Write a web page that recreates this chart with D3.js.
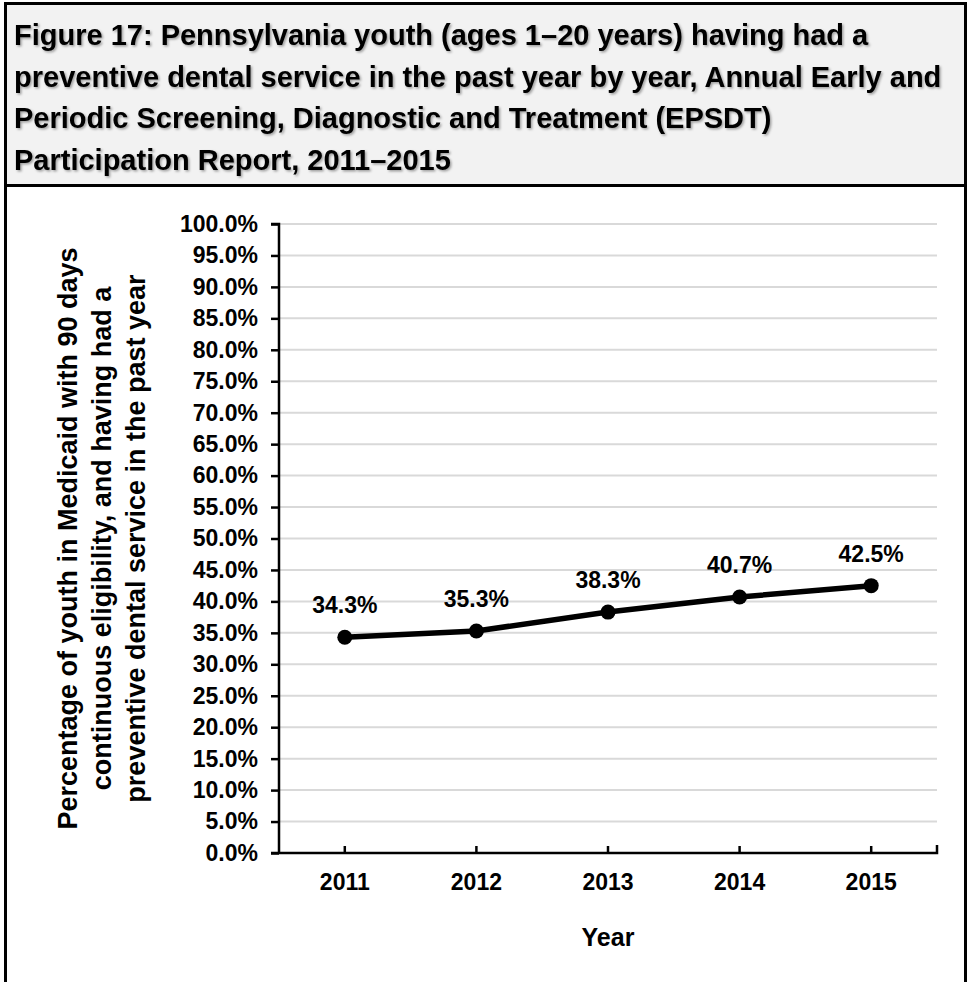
<!DOCTYPE html>
<html><head><meta charset="utf-8">
<script src="https://cdn.jsdelivr.net/npm/d3@7"></script>
<style>
html,body{margin:0;padding:0;background:#fff;}
svg{display:block;font-family:"Liberation Sans",Arial,sans-serif;}
</style></head>
<body>
<script>
const titleLines = [
  "Figure 17: Pennsylvania youth (ages 1\u201320 years) having had a",
  "preventive dental service in the past year by year, Annual Early and",
  "Periodic Screening, Diagnostic and Treatment (EPSDT)",
  "Participation Report, 2011\u20132015"
];
const years = ["2011","2012","2013","2014","2015"];
const values = [34.3, 35.3, 38.3, 40.7, 42.5];
const yTicks = d3.range(0, 100.001, 5);
const yTitleLines = [
  "Percentage of youth in Medicaid with 90 days",
  "continuous eligibility, and having had a",
  "preventive dental service in the past year"
];
const xTitle = "Year";

const W = 968, H = 982;
const FF = "Liberation Sans, Arial, sans-serif";
const svg = d3.select("body").append("svg").attr("width", W).attr("height", H);

const defs = svg.append("defs");
const f = defs.append("filter").attr("id","sh").attr("x","-5%").attr("y","-20%").attr("width","110%").attr("height","140%");
f.append("feDropShadow").attr("dx",1.5).attr("dy",1.5).attr("stdDeviation",0.8).attr("flood-color","#000").attr("flood-opacity",0.35);

// Title box
svg.append("rect").attr("x",5.5).attr("y",3.5).attr("width",960).attr("height",182)
  .attr("fill","#f2f2f2").attr("stroke","#000").attr("stroke-width",3);
// Chart box (open bottom)
svg.append("path").attr("d",`M5.5,${H+5} V185.5 H965.5 V${H+5}`).attr("fill","none").attr("stroke","#000").attr("stroke-width",3);

const tg = svg.append("g").attr("filter","url(#sh)");
titleLines.forEach((t,i)=>{
  tg.append("text").attr("x",14).attr("y",45 + i*41.5).attr("font-size",29).attr("font-weight","bold").attr("fill","#000").text(t);
});

const m = {left:279, right:937, top:224, bottom:853};
const x = d3.scaleBand().domain(years).range([m.left, m.right]);
const y = d3.scaleLinear().domain([0,100]).range([m.bottom, m.top]);

// gridlines
svg.append("g").selectAll("line").data(yTicks.filter(d=>d>0)).join("line")
  .attr("x1",m.left).attr("x2",m.right).attr("y1",d=>y(d)).attr("y2",d=>y(d))
  .attr("stroke","#d9d9d9").attr("stroke-width",2);

// y axis
const ya = svg.append("g").attr("transform",`translate(${m.left},0)`)
  .call(d3.axisLeft(y).tickValues(yTicks).tickSize(8).tickPadding(13).tickFormat(d=>d.toFixed(1)+"%"));
ya.select(".domain").attr("stroke","#000").attr("stroke-width",2.5).attr("d",`M-8,${m.top}H0V${m.bottom}`);
ya.selectAll(".tick line").attr("stroke","#000").attr("stroke-width",2.5);
ya.selectAll(".tick text").attr("font-size",23).attr("font-weight","bold").attr("fill","#000").attr("font-family",FF);

// x axis
const xa = svg.append("g").attr("transform",`translate(0,${m.bottom})`)
  .call(d3.axisBottom(x).tickSize(0).tickPadding(21));
xa.select(".domain").attr("stroke","#000").attr("stroke-width",2.5).attr("d",`M${m.left-8},0H${m.right}V-8`);
xa.selectAll(".tick text").attr("font-size",23).attr("font-weight","bold").attr("fill","#000").attr("font-family",FF);
xa.selectAll(".tick").append("line").attr("x1",0).attr("x2",0).attr("y1",0).attr("y2",-7).attr("stroke","#000").attr("stroke-width",2.5);

// line
const cx = d => x(d) + x.bandwidth()/2;
const pts = years.map((yr,i)=>({yr, v:values[i]}));
svg.append("path").datum(pts)
  .attr("d", d3.line().x(d=>cx(d.yr)).y(d=>y(d.v)))
  .attr("fill","none").attr("stroke","#000").attr("stroke-width",5.5).attr("stroke-linejoin","round");
svg.append("g").selectAll("circle").data(pts).join("circle")
  .attr("cx",d=>cx(d.yr)).attr("cy",d=>y(d.v)).attr("r",7.5).attr("fill","#000");
svg.append("g").selectAll("text").data(pts).join("text")
  .attr("x",d=>cx(d.yr)).attr("y",d=>y(d.v)-24).attr("text-anchor","middle")
  .attr("font-size",23).attr("font-weight","bold").attr("fill","#000").text(d=>d.v.toFixed(1)+"%");

// y title
const ytg = svg.append("g").attr("transform",`translate(0,${(m.top+m.bottom)/2}) rotate(-90)`);
yTitleLines.forEach((t,i)=>{
  ytg.append("text").attr("x",0).attr("y",76.5 + i*34).attr("text-anchor","middle")
    .attr("font-size",27).attr("font-weight","bold").attr("fill","#000").text(t);
});

// x title
svg.append("text").attr("x",(m.left+m.right)/2).attr("y",946).attr("text-anchor","middle")
  .attr("font-size",25).attr("font-weight","bold").attr("fill","#000").text(xTitle);
</script>
</body></html>
